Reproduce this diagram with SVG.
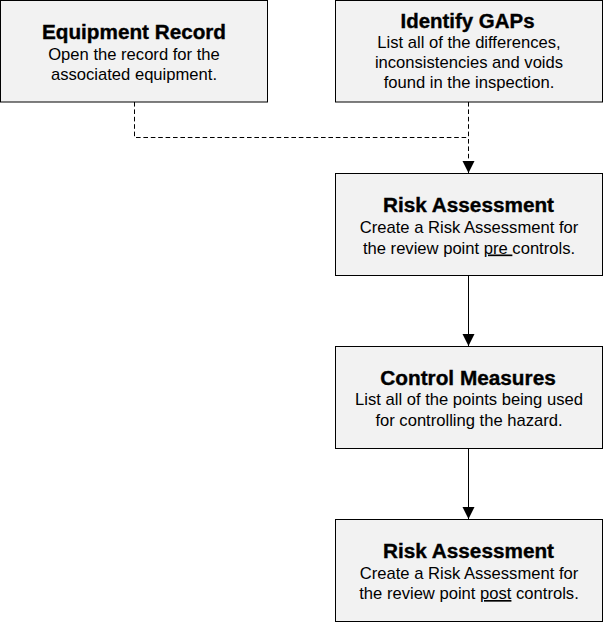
<svg xmlns="http://www.w3.org/2000/svg" width="603" height="623" viewBox="0 0 603 623">
<style>
.box{fill:#f2f2f2;stroke:#000;stroke-width:1}
.t{font-family:"Liberation Sans",Arial,sans-serif;font-size:19.5px;font-weight:bold;fill:#000;stroke:#000;stroke-width:0.35;text-anchor:middle}
.b{font-family:"Liberation Sans",Arial,sans-serif;font-size:16.6px;fill:#000;text-anchor:middle}
.c{fill:none;stroke:#000;stroke-width:1}
.d{stroke-dasharray:4.6 2.8}
.u{text-decoration:underline}
</style>
<defs>
<marker id="arr" markerUnits="userSpaceOnUse" markerWidth="13" markerHeight="13" refX="12" refY="6.5" orient="auto">
<path d="M0,0.5 L12,6.5 L0,12.5 Z" fill="#000"/>
</marker>
</defs>
<rect width="603" height="623" fill="#fff"/>
<g id="connectors">
<path class="c d" d="M134.5,102 V137.5 H468.5"/>
<path class="c d" d="M468.5,102 V173" marker-end="url(#arr)"/>
<path class="c" d="M468.5,276 V346" marker-end="url(#arr)"/>
<path class="c" d="M468.5,449 V519" marker-end="url(#arr)"/>
</g>
<g id="equipment-record">
<rect class="box" x="0.5" y="0.5" width="267" height="101.5"/>
<text class="t" x="134" y="39" textLength="184" lengthAdjust="spacingAndGlyphs">Equipment Record</text>
<text class="b" x="134" y="59.5">Open the record for the</text>
<text class="b" x="134" y="80">associated equipment.</text>
</g>
<g id="identify-gaps">
<rect class="box" x="335.5" y="0.5" width="267" height="101.5"/>
<text class="t" x="467.5" y="27.5" textLength="134" lengthAdjust="spacingAndGlyphs">Identify GAPs</text>
<text class="b" x="469" y="48">List all of the differences,</text>
<text class="b" x="469" y="68">inconsistencies and voids</text>
<text class="b" x="469" y="88">found in the inspection.</text>
</g>
<g id="risk-assessment-pre">
<rect class="box" x="335.5" y="173.5" width="267" height="102"/>
<text class="t" x="468.5" y="212.3" textLength="171" lengthAdjust="spacingAndGlyphs">Risk Assessment</text>
<text class="b" x="469" y="233">Create a Risk Assessment for</text>
<text class="b" x="469" y="253.5">the review point <tspan class="u">pre </tspan>controls.</text>
</g>
<g id="control-measures">
<rect class="box" x="335.5" y="346.5" width="267" height="102"/>
<text class="t" x="468" y="384.8" textLength="175.5" lengthAdjust="spacingAndGlyphs">Control Measures</text>
<text class="b" x="469" y="405.3">List all of the points being used</text>
<text class="b" x="469" y="425.5">for controlling the hazard.</text>
</g>
<g id="risk-assessment-post">
<rect class="box" x="335.5" y="519.5" width="267" height="102"/>
<text class="t" x="468.5" y="558" textLength="171" lengthAdjust="spacingAndGlyphs">Risk Assessment</text>
<text class="b" x="469" y="578.7">Create a Risk Assessment for</text>
<text class="b" x="469" y="599">the review point <tspan class="u">post</tspan> controls.</text>
</g>
</svg>
